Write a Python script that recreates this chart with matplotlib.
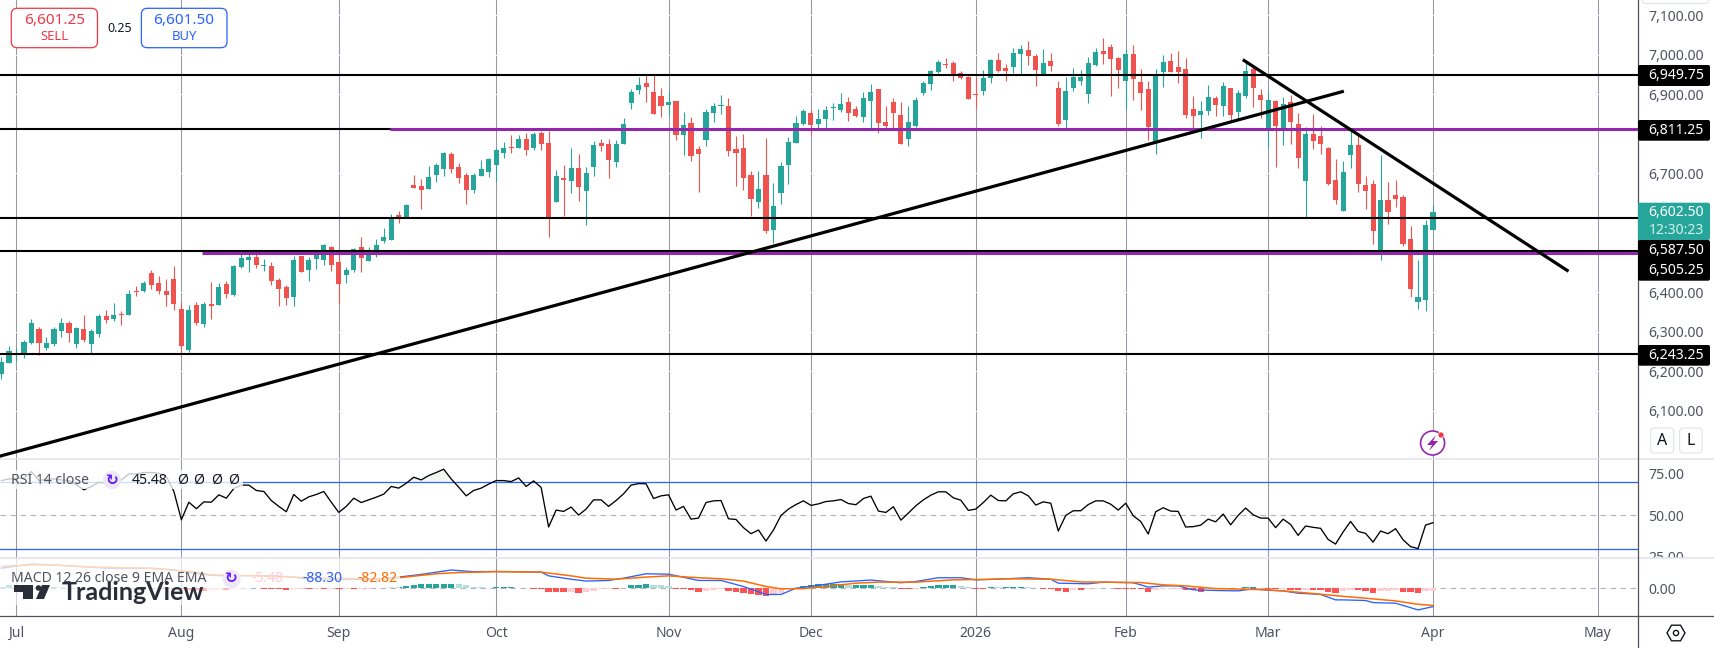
import matplotlib
matplotlib.use("Agg")
import matplotlib.pyplot as plt
import numpy as np
from matplotlib.patches import Circle, FancyBboxPatch, Polygon, Rectangle, RegularPolygon

plt.rcParams["font.family"] = ["Noto Sans", "DejaVu Sans"]

# daily candles
opens = [6194, 6220, 6241, 6242, 6271, 6306, 6259, 6269, 6302, 6322, 6269, 6306, 6269, 6295, 6339, 6332, 6346, 6343, 6403, 6403,
         6448, 6423, 6402, 6433, 6357, 6254, 6367, 6320, 6370, 6368, 6420, 6393, 6464, 6481, 6489, 6467, 6465, 6431, 6412, 6389,
         6492, 6456, 6484, 6481, 6513, 6476, 6444, 6456, 6513, 6480, 6505, 6530, 6532, 6594, 6587, 6670, 6668, 6661, 6696, 6711,
         6749, 6715, 6695, 6658, 6694, 6704, 6722, 6752, 6764, 6764, 6786, 6763, 6801, 6776, 6629, 6688, 6681, 6714, 6656, 6716,
         6777, 6774, 6729, 6774, 6878, 6911, 6928, 6906, 6896, 6873, 6883, 6797, 6827, 6762, 6784, 6853, 6871, 6870, 6762, 6764,
         6696, 6628, 6696, 6557, 6651, 6721, 6777, 6824, 6853, 6825, 6838, 6864, 6860, 6880, 6863, 6843, 6883, 6913, 6830, 6880,
         6848, 6787, 6820, 6903, 6926, 6956, 6976, 6979, 6954, 6944, 6901, 6908, 6941, 6986, 6966, 6969, 7002, 7012, 6997, 6949,
         6984, 6916, 6835, 6916, 6933, 6901, 6974, 7009, 7019, 6991, 6933, 7002, 6931, 6913, 6779, 6956, 6984, 6969, 6964, 6863,
         6848, 6858, 6891, 6870, 6916, 6855, 6896, 6964, 6898, 6815, 6883, 6812, 6880, 6825, 6681, 6800, 6795, 6764, 6683, 6605,
         6747, 6772, 6671, 6673, 6507, 6633, 6646, 6641, 6534, 6375, 6380, 6557]
highs = [6237, 6264, 6258, 6279, 6332, 6313, 6286, 6313, 6334, 6326, 6313, 6343, 6306, 6345, 6355, 6372, 6353, 6406, 6416, 6428,
         6456, 6441, 6433, 6466, 6374, 6368, 6375, 6376, 6425, 6423, 6428, 6469, 6500, 6498, 6502, 6483, 6477, 6435, 6418, 6492,
         6492, 6488, 6504, 6522, 6517, 6507, 6463, 6511, 6539, 6513, 6534, 6563, 6597, 6605, 6623, 6696, 6686, 6719, 6726, 6753,
         6753, 6726, 6700, 6700, 6734, 6738, 6765, 6779, 6797, 6797, 6801, 6805, 6806, 6806, 6709, 6720, 6764, 6749, 6715, 6782,
         6787, 6787, 6784, 6840, 6913, 6944, 6949, 6949, 6916, 6908, 6883, 6855, 6843, 6769, 6863, 6878, 6898, 6891, 6795, 6800,
         6706, 6706, 6790, 6676, 6729, 6792, 6845, 6863, 6860, 6863, 6870, 6878, 6903, 6893, 6870, 6906, 6926, 6913, 6870, 6891,
         6880, 6870, 6893, 6933, 6961, 6987, 6992, 6984, 6959, 6946, 6944, 6961, 6989, 7004, 6976, 7017, 7024, 7035, 7002, 7014,
         7004, 6933, 6944, 6966, 6961, 6994, 7017, 7042, 7027, 6994, 7014, 7024, 6964, 6933, 6964, 6999, 7004, 7009, 6992, 6896,
         6883, 6923, 6896, 6931, 6916, 6911, 6981, 6974, 6913, 6908, 6885, 6893, 6898, 6853, 6817, 6850, 6820, 6767, 6737, 6731,
         6810, 6797, 6694, 6683, 6747, 6678, 6683, 6646, 6567, 6481, 6582, 6620]
lows = [6181, 6220, 6225, 6235, 6268, 6242, 6254, 6263, 6288, 6275, 6259, 6273, 6244, 6288, 6323, 6328, 6317, 6343, 6391, 6401,
        6409, 6396, 6365, 6355, 6244, 6250, 6316, 6313, 6332, 6368, 6386, 6391, 6460, 6452, 6460, 6454, 6418, 6364, 6368, 6364,
        6452, 6428, 6459, 6469, 6454, 6370, 6423, 6452, 6452, 6480, 6490, 6524, 6532, 6576, 6587, 6662, 6610, 6661, 6679, 6694,
        6702, 6677, 6623, 6651, 6694, 6692, 6679, 6740, 6752, 6764, 6747, 6758, 6760, 6540, 6629, 6593, 6651, 6630, 6570, 6694,
        6757, 6689, 6716, 6774, 6863, 6901, 6880, 6850, 6843, 6848, 6784, 6747, 6731, 6653, 6769, 6830, 6850, 6744, 6668, 6658,
        6593, 6613, 6550, 6524, 6623, 6673, 6777, 6822, 6797, 6812, 6815, 6835, 6855, 6832, 6843, 6830, 6815, 6802, 6812, 6815,
        6774, 6769, 6817, 6898, 6911, 6954, 6966, 6933, 6939, 6888, 6865, 6898, 6928, 6956, 6933, 6954, 6951, 6974, 6921, 6949,
        6959, 6820, 6810, 6908, 6923, 6878, 6971, 6976, 6896, 6916, 6863, 6885, 6860, 6784, 6749, 6918, 6956, 6928, 6840, 6812,
        6790, 6848, 6845, 6845, 6830, 6838, 6891, 6868, 6840, 6767, 6716, 6772, 6774, 6714, 6588, 6762, 6749, 6671, 6623, 6605,
        6714, 6653, 6610, 6522, 6481, 6572, 6615, 6517, 6388, 6358, 6353, 6557]
closes = [6223, 6252, 6246, 6274, 6322, 6271, 6271, 6306, 6322, 6298, 6310, 6279, 6302, 6340, 6330, 6342, 6343, 6396, 6401, 6423,
          6418, 6403, 6393, 6370, 6263, 6354, 6323, 6370, 6364, 6412, 6396, 6466, 6486, 6489, 6469, 6469, 6428, 6409, 6386, 6481,
          6452, 6481, 6494, 6518, 6469, 6421, 6455, 6508, 6487, 6502, 6519, 6540, 6589, 6585, 6620, 6663, 6657, 6691, 6721, 6752,
          6712, 6689, 6657, 6695, 6711, 6737, 6758, 6763, 6763, 6786, 6758, 6799, 6775, 6591, 6693, 6684, 6714, 6666, 6701, 6772,
          6769, 6734, 6774, 6825, 6906, 6923, 6918, 6850, 6870, 6880, 6797, 6822, 6744, 6749, 6855, 6870, 6873, 6757, 6752, 6689,
          6635, 6661, 6555, 6618, 6719, 6779, 6827, 6858, 6822, 6838, 6860, 6865, 6875, 6853, 6845, 6891, 6906, 6827, 6820, 6853,
          6774, 6830, 6885, 6928, 6959, 6981, 6975, 6949, 6941, 6888, 6899, 6941, 6986, 6959, 6959, 7004, 7014, 6997, 6961, 6979,
          6971, 6825, 6908, 6944, 6944, 6979, 7007, 7002, 6989, 6961, 7002, 6938, 6903, 6817, 6949, 6981, 6956, 6956, 6848, 6845,
          6858, 6893, 6873, 6921, 6848, 6903, 6959, 6916, 6885, 6885, 6820, 6875, 6830, 6739, 6800, 6782, 6774, 6673, 6633, 6704,
          6772, 6673, 6656, 6555, 6633, 6603, 6635, 6522, 6408, 6388, 6570, 6602.5]

rsi = [70.6, 71.6, 72.0, 72.0, 76.0, 70.6, 71.4, 71.6, 71.0, 70.6, 68.1, 65.1, 67.1, 69.6, 69.0, 68.1, 71.0, 74.6, 74.6, 75.4,
       75.4, 75.0, 73.0, 64.1, 47.2, 57.7, 53.8, 57.9, 57.7, 62.1, 60.1, 65.9, 67.9, 67.9, 64.7, 64.1, 58.7, 55.2, 52.0, 62.3,
       58.3, 60.9, 62.3, 64.1, 57.7, 51.6, 55.2, 60.1, 57.5, 59.1, 60.7, 62.5, 67.1, 66.1, 69.0, 72.6, 71.0, 73.6, 75.4, 77.4,
       71.6, 66.7, 61.5, 64.7, 66.1, 68.5, 70.6, 70.6, 70.0, 72.2, 67.1, 70.4, 66.5, 42.9, 53.0, 52.2, 54.8, 50.0, 53.6, 59.1,
       59.1, 55.2, 58.7, 62.7, 67.9, 68.8, 68.7, 59.9, 61.5, 62.1, 53.0, 55.2, 47.6, 48.2, 57.5, 58.5, 58.7, 47.8, 47.4, 42.5,
       38.9, 41.1, 34.5, 41.1, 49.8, 53.6, 56.3, 58.5, 55.8, 56.7, 58.1, 58.5, 59.3, 56.9, 56.2, 59.9, 61.3, 52.4, 51.6, 55.0,
       47.0, 51.2, 55.6, 59.1, 61.9, 63.9, 63.9, 60.3, 58.9, 52.8, 53.6, 57.5, 61.9, 58.7, 58.5, 62.7, 63.9, 61.5, 56.0, 57.9,
       57.1, 40.5, 49.8, 52.6, 52.6, 56.3, 58.5, 58.5, 56.5, 53.0, 57.1, 49.6, 46.2, 38.7, 52.0, 54.4, 52.4, 52.2, 42.9, 43.1,
       44.0, 47.6, 46.0, 50.6, 44.2, 49.8, 54.2, 50.2, 48.2, 48.2, 42.5, 47.6, 44.4, 37.9, 43.5, 42.7, 42.1, 35.5, 32.7, 39.9,
       46.2, 40.3, 39.1, 33.9, 40.5, 38.9, 41.9, 35.3, 31.2, 30.0, 44.0, 45.48]

# macd lines are read at these bars only
macd_bars = [0, 4, 8, 14, 20, 23, 25, 28, 31, 34, 38, 40, 46, 50, 53, 56, 60, 63, 66, 72, 73, 76, 78, 81, 83, 86, 89, 93, 96, 99, 102,
             104, 106, 110, 112, 116, 120, 122, 125, 128, 130, 133, 137, 140, 141, 145, 147, 151, 152, 153, 155, 157, 159, 162,
             165, 167, 169, 171, 173, 176, 178, 179, 182, 183, 186, 189, 191]
macd_vals = [96, 116, 109, 96, 95, 88, 75, 61, 59, 61, 56, 48, 42, 43, 53, 66, 87, 79, 80, 77, 59, 43, 34, 37, 48, 69, 67, 37, 37, 8, -30,
             -30, 0, 19, 30, 39, 26, 32, 50, 50, 40, 43, 50, 43, 24, 21, 29, 26, 16, 5, 11, 11, -8, -11,
             -13, -3, -10, -13, -24, -30, -56, -56, -59, -69, -72, -104, -88.3]
signal_bars = [0, 4, 7, 12, 20, 25, 28, 34, 39, 44, 50, 53, 58, 61, 66, 72, 76, 78, 82, 86, 89, 93, 96, 99, 102, 104, 107, 110, 114,
               117, 122, 127, 131, 134, 140, 144, 152, 155, 158, 162, 167, 169, 171, 176, 179, 182, 186, 189, 191]
signal_vals = [104, 112, 111, 101, 95, 80, 64, 59, 53, 47, 45, 50, 69, 75, 79, 77, 59, 48, 43, 53, 59, 50, 45, 34, 8, -3, -2, 8, 24,
               29, 29, 40, 42, 45, 43, 30, 27, 16, 11, -2, -6, -8, -13, -29, -39, -48, -61, -77, -82.8]
hist = [8, 13, 11, 8, 6, 6, 5, 6, 5, 3, 2, 1, 2, 2, 2, 2, 2, 2, 2, 2, 1, 0, -2, -5,
        -6, -10, -11, -13, -11, -10, -10, -2, 2, 3, 3, -2, -3, -6, -8, -6, -5, -5, -3, -3, -2, -5, -3, -5, -3, -2,
        2, 2, 5, 8, 10, 14, 18, 19, 22, 22, 22, 18, 13, 6, 5, 3, 5, 5, 5, 3, 3, -2, -2, -19, -19, -19,
        -18, -24, -19, -13, -6, -5, -5, 3, 13, 16, 21, 16, 13, 11, -2, -5, -10, -16, -13, -8, -5, -13, -16, -22,
        -27, -32, -37, -27, -24, -5, 2, 11, 16, 19, 19, 21, 21, 16, 16, 16, 16, 11, 6, 5, -6, -6, -2, 8, 11, 16, 16, 16, 10, 5,
        -2, -2, 6, 5, 5, 6, 6, 5, 2, -2, -2, -13, -18, -11, -11, -5, -2, 1, 2, -2, -2, -2,
        -6, -18, -11, -6, -5, -2, -11, -11, -16, -3, -2, -2, -5, 2, 5, 6, 2, -5, -5, -2, -11, -11, -10, -10, -10, -16, -21, -14, -8, -11,
        -13, -21, -14, -13, -8, -16, -19, -24, -14, -13]

month_bars = [2, 24, 45, 66, 89, 108, 130, 150, 169, 191, 213]
month_labels = ["Jul", "Aug", "Sep", "Oct", "Nov", "Dec", "2026", "Feb", "Mar", "Apr", "May"]
# 6500, 6600 and 6800 sit behind the price labels in the original
price_ticks = [6100, 6200, 6300, 6400, 6700, 6900, 7000, 7100]
rsi_ticks = [75, 50, 25]

black_levels = [6949.75, 6587.5, 6505.25, 6243.25]
black_short_level = 6811.25
purple_levels = [6811.25, 6500]
purple_starts = [51.8, 26.8]
trend_up_x, trend_up_y = [-0.2, 178.9], [5986, 6906.5]
trend_down_x, trend_down_y = [165.8, 208.9], [6985, 6455]

W, H = 1714, 648
AXIS_X = 1638
GREEN, RED = "#26a69a", "#ef5350"
GRID = "#9598a1"
LABEL = "#50535e"
BLUE, ORANGE, PURPLE = "#2962ff", "#ff6d00", "#9327ab"
FS = 10.1
xlim = (-0.2, 218.35)


def pane(top, bottom):
    ax = fig.add_axes([0, 1 - bottom / H, AXIS_X / W, (bottom - top) / H])
    ax.set_xlim(xlim)
    ax.set_xticks(month_bars)
    ax.grid(axis="x", color=GRID, lw=0.75)
    ax.set_axisbelow(True)
    ax.yaxis.tick_right()
    ax.tick_params(axis="y", length=0, pad=7.2, labelsize=FS, labelcolor=LABEL)
    ax.tick_params(axis="x", length=0, labelbottom=False)
    for s in ax.spines.values():
        s.set_visible(False)
    return ax


fig = plt.figure(figsize=(W / 100, H / 100), dpi=100, facecolor="white")
ax_price = pane(0, 459.3)
ax_rsi = pane(459.3, 558)
ax_macd = pane(558, 616)

# price pane
idx = np.arange(len(closes))
o, h, l, c = map(np.array, (opens, highs, lows, closes))
col = [GREEN if b >= a else RED for a, b in zip(o, c)]
ax_price.set_ylim(5978, 7137.9)
ax_price.set_yticks(price_ticks, [f"{t:,.2f}" for t in price_ticks])
ax_price.grid(axis="y", color="white", lw=0.75)
ax_price.vlines(idx, l, h, colors=col, lw=0.8, zorder=2)
body = np.maximum(np.abs(c - o), 2.5)
ax_price.bar(idx, body, bottom=np.minimum(o, c), width=0.68, color=col, lw=0, zorder=3)
for lev in black_levels:
    ax_price.axhline(lev, color="black", lw=1.5, zorder=4)
ax_price.plot([xlim[0], purple_starts[0]], [black_short_level] * 2, color="black", lw=1.5, zorder=4)
for lev, start in zip(purple_levels, purple_starts):
    ax_price.plot([start, xlim[1]], [lev, lev], color=PURPLE, lw=2.2, zorder=4, solid_capstyle="butt")
ax_price.plot(trend_up_x, trend_up_y, color="black", lw=2.3, zorder=5)
ax_price.plot(trend_down_x, trend_down_y, color="black", lw=2.3, zorder=5)

# rsi pane
r = np.array(rsi)
ax_rsi.set_ylim(24.4, 83.3)
ax_rsi.set_yticks(rsi_ticks, [f"{t:.2f}" for t in rsi_ticks])
ax_rsi.axhline(70, color=BLUE, lw=0.9)
ax_rsi.axhline(30, color=BLUE, lw=0.9)
ax_rsi.axhline(50, color="#b2b5be", lw=0.8, ls=(0, (5, 4)))
ax_rsi.fill_between(idx, 70, r, where=r > 70, color="#4caf50", alpha=0.08, lw=0, interpolate=True)
ax_rsi.plot(idx, r, color="black", lw=0.95)

# macd pane
hv = np.array(hist)
hist_col = []
for i, v in enumerate(hv):
    prev = hv[i - 1] if i else v
    if v >= 0:
        hist_col.append(GREEN if v >= prev else "#b2dfdb")
    else:
        hist_col.append("#ffcdd2" if v > prev else "#ff5252")
ax_macd.set_ylim(-133.2, 144.5)
ax_macd.set_yticks([0], ["0.00"])
ax_macd.axhline(0, color="#b2b5be", lw=0.8, ls=(0, (5, 4)))
ax_macd.bar(idx, hv, width=0.84, color=hist_col, lw=0, zorder=2)
ax_macd.plot(macd_bars, macd_vals, color=BLUE, lw=0.95, zorder=3)
ax_macd.plot(signal_bars, signal_vals, color=ORANGE, lw=1.1, zorder=3)
ax_macd.tick_params(axis="x", labelbottom=True, pad=7.2, labelsize=FS, labelcolor=LABEL)
ax_macd.set_xticklabels(month_labels)
for lbl in ax_macd.get_xticklabels():
    if lbl.get_text() == "2026":
        lbl.set_fontweight("bold")

# everything around the chart is placed in pixels on a top layer
ov = fig.add_axes([0, 0, 1, 1], zorder=10)
ov.set_xlim(0, W)
ov.set_ylim(H, 0)
ov.axis("off")
ov.patch.set_alpha(0)


def rbox(x, y, w, hh, fc="white", ec="none", lw=1.0, r=4, zorder=2):
    ov.add_patch(FancyBboxPatch((x, y), w, hh, boxstyle=f"round,pad=0,rounding_size={r}",
                                fc=fc, ec=ec, lw=lw, zorder=zorder))


for lbl in ax_rsi.get_yticklabels():
    if lbl.get_text() == "25.00":
        lbl.set_clip_path(Rectangle((1640, 459), 70, 99, transform=ov.transData))

# pane borders
for y in (459.3, 558):
    ov.plot([0, W], [y, y], color="#e0e3eb", lw=1.1, zorder=1)
ov.plot([0, W], [616, 616], color="#50535e", lw=0.9, zorder=1)
ov.plot([AXIS_X, AXIS_X], [0, H], color="#50535e", lw=0.9, zorder=1)

# buy and sell buttons
rbox(11.3, 8.3, 86.2, 39.4, ec="#f23645", lw=0.9, r=6)
rbox(141.4, 8.3, 85.6, 39.4, ec=BLUE, lw=0.9, r=6)
ov.text(54.5, 20.5, "6,601.25", color="#f23645", fontsize=11, fontweight="bold", ha="center", va="center", zorder=3)
ov.text(54.5, 36, "SELL", color="#f23645", fontsize=9.4, ha="center", va="center", zorder=3)
ov.text(184, 20.5, "6,601.50", color=BLUE, fontsize=11, fontweight="bold", ha="center", va="center", zorder=3)
ov.text(184, 36, "BUY", color=BLUE, fontsize=9.4, ha="center", va="center", zorder=3)
ov.text(119.5, 28, "0.25", color="#131722", fontsize=9, ha="center", va="center", zorder=3)

# price labels on the axis
for y0, y1, txt in [(65, 86, "6,949.75"), (120, 140.7, "6,811.25"), (345, 365.7, "6,243.25")]:
    rbox(AXIS_X, y0, 72, y1 - y0, fc="black", r=2)
    ov.text(1676, (y0 + y1) / 2, txt, color="white", fontsize=FS, fontweight="medium", ha="center", va="center", zorder=3)
rbox(AXIS_X, 202.7, 72, 37.3, fc=GREEN, r=2)
ov.text(1676, 213, "6,602.50", color="white", fontsize=FS, fontweight="medium", ha="center", va="center", zorder=3)
ov.text(1676, 230, "12:30:23", color="#d4f0ec", fontsize=FS, ha="center", va="center", zorder=3)
rbox(AXIS_X, 240, 72, 40.7, fc="black", r=2)
ov.text(1676, 250, "6,587.50", color="white", fontsize=FS, fontweight="medium", ha="center", va="center", zorder=3)
ov.text(1676, 270, "6,505.25", color="white", fontsize=FS, fontweight="medium", ha="center", va="center", zorder=3)

# auto / log buttons, settings and the alert mark
rbox(1642, -6, 67, 9.5, ec="#e0e3eb", lw=0.8, r=4)
rbox(1650.6, 428, 23, 25, ec="#e0e3eb", lw=0.8, r=4)
rbox(1679.6, 428, 22.5, 25, ec="#e0e3eb", lw=0.8, r=4)
ov.text(1662, 441, "A", color="#131722", fontsize=11.5, ha="center", va="center", zorder=3)
ov.text(1691, 441, "L", color="#131722", fontsize=11.5, ha="center", va="center", zorder=3)
ov.add_patch(RegularPolygon((1676, 633), 6, radius=9, orientation=np.pi / 6, fc="white", ec="#131722", lw=1, zorder=3))
ov.add_patch(Circle((1676, 633), 2.6, fc="white", ec="#131722", lw=1, zorder=4))
ov.add_patch(Circle((1432.6, 443), 12, fc="white", ec=PURPLE, lw=1.2, zorder=3))
ov.add_patch(Polygon([(1436, 435), (1427, 445), (1432, 445), (1429, 451), (1438, 441), (1433, 441)], fc=PURPLE, ec="none", zorder=4))
ov.add_patch(Circle((1441, 435), 3, fc="#f23645", ec="white", lw=0.5, zorder=5))

# legend areas fade what is behind them
ov.add_patch(Rectangle((0, 470), 243, 19, fc="white", ec="none", alpha=0.78, zorder=1.5))
ov.add_patch(Rectangle((0, 559), 400, 28.5, fc="white", ec="none", alpha=0.72, zorder=1.5))
ov.add_patch(Rectangle((0, 587.5), 250, 17, fc="white", ec="none", alpha=0.6, zorder=1.5))

# watermark
ink = "#2a2e39"
ov.add_patch(Polygon([(14, 585), (33, 585), (33, 599), (23, 599), (23, 592), (14, 592)], fc=ink, ec="none", zorder=1.7))
ov.add_patch(Circle((38.5, 588), 2.8, fc=ink, ec="none", zorder=1.7))
ov.add_patch(Polygon([(36, 599), (42, 585), (50, 585), (44, 599)], fc=ink, ec="none", zorder=1.7))
ov.text(62, 592, "TradingView", family="Lato", fontsize=18, fontweight="bold", color=ink, ha="left", va="center", zorder=1.7)

# indicator legends
ov.text(11, 480, "RSI 14 close", color=LABEL, fontsize=FS, ha="left", va="center", zorder=3)
ov.add_patch(Circle((112, 480), 9, fc="#ede7f6", ec="none", zorder=3))
ov.text(112, 480, "↻", family="DejaVu Sans", color="#651fff", fontsize=11, fontweight="bold", ha="center", va="center", zorder=4)
ov.text(132, 480, "45.48", color="#131722", fontsize=FS, ha="left", va="center", zorder=3)
for x in (183, 199, 217, 234):
    ov.text(x, 480, "Ø", color="#131722", fontsize=FS, ha="center", va="center", zorder=3)
ov.text(11, 579, "MACD 12 26 close 9 EMA EMA", color=LABEL, fontsize=FS, ha="left", va="center", zorder=3)
ov.add_patch(Circle((231.6, 579), 9, fc="#ede7f6", ec="none", zorder=3))
ov.text(231.6, 579, "↻", family="DejaVu Sans", color="#651fff", fontsize=11, fontweight="bold", ha="center", va="center", zorder=4)
ov.text(252, 579, "-5.48", color="#ffcdd2", fontsize=FS, ha="left", va="center", zorder=3)
ov.text(303, 579, "-88.30", color=BLUE, fontsize=FS, ha="left", va="center", zorder=3)
ov.text(358, 579, "-82.82", color=ORANGE, fontsize=FS, ha="left", va="center", zorder=3)

fig.savefig("out.png", dpi=100)
